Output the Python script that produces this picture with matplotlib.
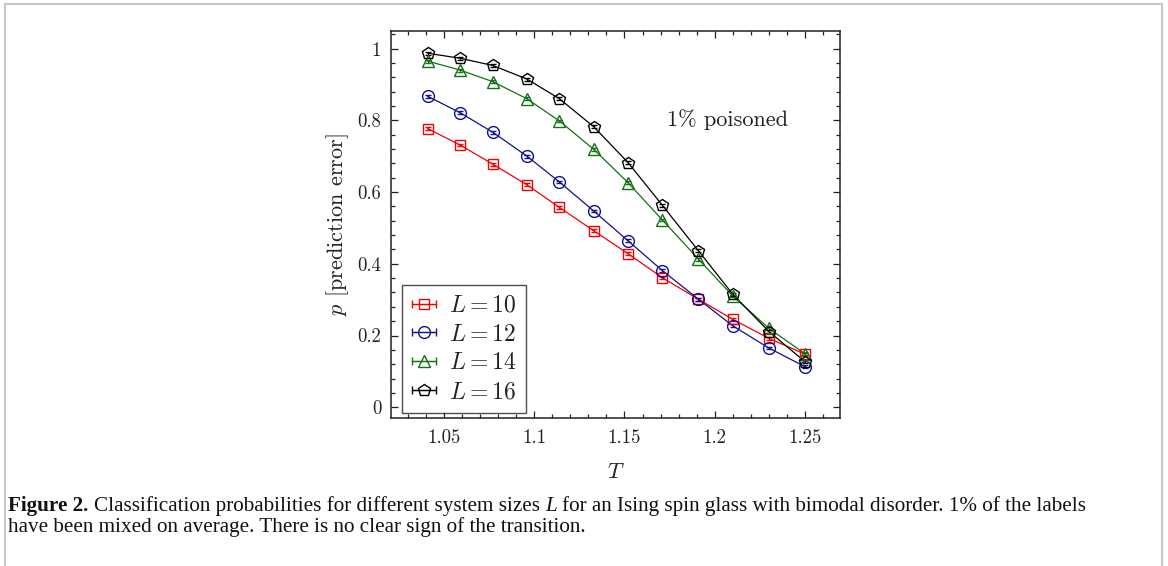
import numpy as np
import matplotlib
matplotlib.use("Agg")
import matplotlib.pyplot as plt
from matplotlib.container import ErrorbarContainer
from matplotlib.legend_handler import HandlerErrorbar
from matplotlib.patches import Rectangle

plt.rcParams['font.family'] = 'serif'
plt.rcParams['font.serif'] = ['cmr10']
plt.rcParams['mathtext.fontset'] = 'cm'
plt.rcParams['axes.formatter.use_mathtext'] = True

# temperatures and classification probabilities
T = [1.041, 1.059, 1.077, 1.096, 1.114, 1.133, 1.152, 1.171, 1.191, 1.210, 1.230, 1.250]
p_L10 = [0.777, 0.731, 0.678, 0.620, 0.557, 0.492, 0.428, 0.361, 0.301, 0.245, 0.192, 0.148]
p_L12 = [0.867, 0.821, 0.767, 0.700, 0.628, 0.547, 0.464, 0.381, 0.301, 0.227, 0.165, 0.113]
p_L14 = [0.965, 0.940, 0.908, 0.860, 0.798, 0.719, 0.626, 0.522, 0.413, 0.310, 0.220, 0.149]
p_L16 = [0.987, 0.973, 0.953, 0.915, 0.860, 0.782, 0.682, 0.563, 0.436, 0.315, 0.211, 0.127]
err = [0.004, 0.004, 0.004, 0.004, 0.004, 0.004, 0.004, 0.004, 0.004, 0.004, 0.004, 0.004]

sizes = [10, 12, 14, 16]
xticks = [1.05, 1.1, 1.15, 1.2, 1.25]
xticklabels = ['1.05', '1.1', '1.15', '1.2', '1.25']
yticks = [0, 0.2, 0.4, 0.6, 0.8, 1.0]
yticklabels = ['0', '0.2', '0.4', '0.6', '0.8', '1']

series = [p_L10, p_L12, p_L14, p_L16]
colors = ['#f20000', '#10108c', '#147014', '#000000']
markers = ['s', 'o', '^', 'p']
msizes = [7.5, 8.5, 9, 9]

fig = plt.figure(figsize=(11.68, 5.66), dpi=100)
ax = fig.add_axes([0.3348, 0.2615, 0.3844, 0.6837])

proxies = []
for p, c, m, ms, L in zip(series, colors, markers, msizes, sizes):
    ax.plot(T, p, color=c, lw=0.9, zorder=2)
    ax.errorbar(T, p, yerr=err, fmt=m, mfc='none', mec=c, ms=ms, mew=1.0,
                ecolor=c, elinewidth=0.8, capsize=2.2, capthick=0.8, zorder=3)
    h = ax.errorbar([np.nan], [np.nan], xerr=[1], fmt=m, ls='-', lw=0.9, color=c,
                    mfc='none', mec=c, ms=ms, mew=1.0, elinewidth=0.9,
                    capsize=3, capthick=0.9, label=r'$L = %d$' % L)
    proxies.append(h)

ax.set_xticks(xticks)
ax.set_xticklabels(xticklabels)
ax.set_yticks(yticks)
ax.set_yticklabels(yticklabels)
ax.set_xticks(np.arange(1.03, 1.27, 0.01), minor=True)
ax.set_yticks(np.arange(-0.04, 1.05, 0.04), minor=True)
ax.set_ylim(-0.03, 1.049)
ax.set_xlim(1.0207, 1.2694)
ax.tick_params(which='both', direction='in', top=True, right=True,
               colors='#222222', width=0.9)
ax.tick_params(which='major', length=5, labelsize=13.5, pad=7)
ax.tick_params(which='minor', length=2.7)
ax.tick_params(axis='x', which='major', pad=8)
for s in ax.spines.values():
    s.set_linewidth(1.1)
    s.set_color('#222222')

ax.set_xlabel(r'$T$', fontsize=16, color='#222222', labelpad=11)
ax.set_ylabel(r'$p$ [prediction error]', fontsize=16, color='#222222', labelpad=5)

ax.text(0.615, 0.77, r'1% poisoned', transform=ax.transAxes, fontsize=16,
        color='#222222', va='center', ha='left')

leg = ax.legend(handles=proxies, loc='lower left', bbox_to_anchor=(0.0245, 0.013),
                fontsize=17, frameon=True, fancybox=False, handlelength=1.0,
                handletextpad=0.55, labelspacing=0.28, borderpad=0.42,
                borderaxespad=0.0,
                handler_map={ErrorbarContainer: HandlerErrorbar(xerr_size=0.5)})
leg.get_frame().set_edgecolor('#222222')
leg.get_frame().set_linewidth(1.0)
for t in leg.get_texts():
    t.set_color('#222222')

# caption below the plot
cap = dict(family='Liberation Serif', size=15.2, color='#111111')
t1 = fig.text(8 / 1168, 1 - 511 / 566, 'Figure 2.', weight='bold', va='baseline', **cap)
t2 = ax.annotate('Classification probabilities for different system sizes', xy=(1, 0),
                 xycoords=t1, xytext=(3.8, 0), textcoords='offset points',
                 va='bottom', ha='left', annotation_clip=False, **cap)
t3 = ax.annotate('L', xy=(1, 0), xycoords=t2, xytext=(3.8, 0), textcoords='offset points',
                 va='bottom', ha='left', style='italic', annotation_clip=False, **cap)
t4 = ax.annotate('for an Ising spin glass with bimodal disorder. 1% of the labels', xy=(1, 0),
                 xycoords=t3, xytext=(3.8, 0), textcoords='offset points',
                 va='bottom', ha='left', annotation_clip=False, **cap)
fig.text(8 / 1168, 1 - 532 / 566,
         'have been mixed on average. There is no clear sign of the transition.',
         va='baseline', **cap)

# thin grey frame around the figure panel
fig.patches.append(Rectangle((5 / 1168, -0.2), 1156.5 / 1168, 1.2 - 3.5 / 566,
                             transform=fig.transFigure, fill=False,
                             edgecolor='#c8c8c8', lw=1.5, zorder=0))

fig.savefig('out.png', dpi=100)
